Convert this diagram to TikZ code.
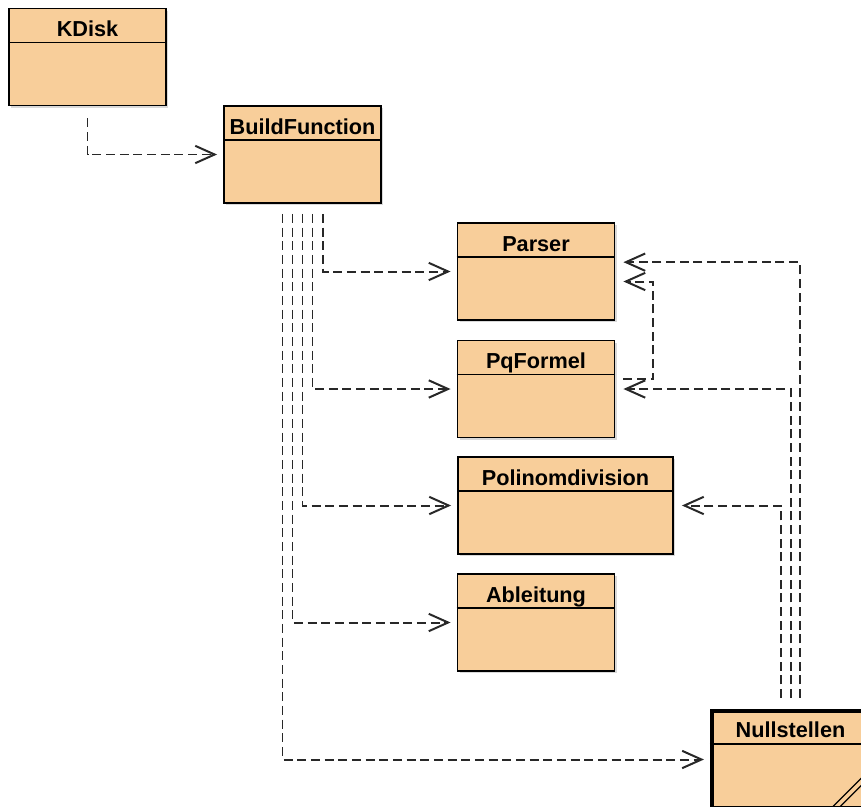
\documentclass[tikz,border=0pt]{standalone}
\usepackage{fontspec}
\setmainfont{Liberation Sans}
\usetikzlibrary{arrows.meta}
\usetikzlibrary{shadows}
\usepackage{xcolor}
\definecolor{classfill}{RGB}{248,206,154}
\definecolor{linegray}{RGB}{40,40,40}

\begin{document}
\begin{tikzpicture}[x=0.03cm,y=-0.03cm,
    classbox/.style={shape=rectangle,
      draw=black,
      line width=1.6pt,
      fill=classfill,
      drop shadow={shadow xshift=2pt,shadow yshift=-2pt,opacity=0.3},
      minimum width=4.71cm,
      minimum height=2.91cm,
      inner sep=0pt},
    classname/.style={font=\fontsize{18.5}{20}\selectfont\bfseries,
      anchor=base,inner sep=0pt},
    divider/.style={line width=1.2pt},
    uses/.style={draw=linegray,line width=1.7pt,
      dash pattern=on 0.27cm off 0.14cm,
      -{Straight Barb[length=0.58cm,width=0.52cm,line width=1.7pt]}}]
    \useasboundingbox (0,0) rectangle (861,807);
    %\draw[help lines,step=1cm] (0,0) grid (861,807); % Only for Development

    % classes
    \node[classbox] (kdisk) at (87.5,57) {};
    \node[classname] (kdisk-t) at ([yshift=-0.87cm]kdisk.north) {KDisk};
    \draw[divider] ([yshift=-1.05cm]kdisk.north west) -- ([yshift=-1.05cm]kdisk.north east);

    \node[classbox] (build) at (302.5,154.5) {};
    \node[classname] (build-t) at ([yshift=-0.87cm]build.north) {BuildFunction};
    \draw[divider] ([yshift=-1.05cm]build.north west) -- ([yshift=-1.05cm]build.north east);

    \node[classbox] (parser) at (536,271.5) {};
    \node[classname] (parser-t) at ([yshift=-0.87cm]parser.north) {Parser};
    \draw[divider] ([yshift=-1.05cm]parser.north west) -- ([yshift=-1.05cm]parser.north east);

    \node[classbox] (pq) at (536,389) {};
    \node[classname] (pq-t) at ([yshift=-0.87cm]pq.north) {PqFormel};
    \draw[divider] ([yshift=-1.05cm]pq.north west) -- ([yshift=-1.05cm]pq.north east);

    \node[classbox,minimum width=6.45cm] (poly) at (565.5,505.5) {};
    \node[classname] (poly-t) at ([yshift=-0.87cm]poly.north) {Polinomdivision};
    \draw[divider] ([yshift=-1.05cm]poly.north west) -- ([yshift=-1.05cm]poly.north east);

    \node[classbox] (abl) at (536,622.5) {};
    \node[classname] (abl-t) at ([yshift=-0.87cm]abl.north) {Ableitung};
    \draw[divider] ([yshift=-1.05cm]abl.north west) -- ([yshift=-1.05cm]abl.north east);

    \node[classbox,line width=3.5pt] (null) at (790.5,759.5) {};
    \node[classname] (null-t) at ([yshift=-0.87cm]null.north) {Nullstellen};
    \draw[divider] ([yshift=-1.05cm]null.north west) -- ([yshift=-1.05cm]null.north east);
    \draw[line width=1pt] ([xshift=-1.25cm]null.south east) -- ([yshift=1.25cm]null.south east)
      ([xshift=-1.03cm]null.south east) -- ([yshift=1.03cm]null.south east);

    % dependencies
    \draw[uses,shorten <=0.36cm,shorten >=0.18cm] (kdisk.south) |- (build);

    \draw[uses,shorten >=0.18cm] ([xshift=0.6cm,yshift=-0.3cm]build.south) |- (parser);
    \draw[uses,shorten >=0.18cm] ([xshift=0.3cm,yshift=-0.3cm]build.south) |- (pq);
    \draw[uses,shorten >=0.18cm] ([yshift=-0.3cm]build.south) |- (poly);
    \draw[uses,shorten >=0.18cm] ([xshift=-0.3cm,yshift=-0.3cm]build.south) |- (abl);
    \draw[uses,shorten >=0.18cm] ([xshift=-0.6cm,yshift=-0.3cm]build.south) |- (null);

    \draw[uses,shorten >=0.24cm] ([xshift=0.27cm,yshift=0.33cm]null.north) |- ([yshift=0.28cm]parser.east);
    \draw[uses,shorten >=0.24cm] ([yshift=0.33cm]null.north) |- (pq);
    \draw[uses,shorten >=0.24cm] ([xshift=-0.3cm,yshift=0.33cm]null.north) |- (poly);

    \draw[uses,shorten <=0.24cm,shorten >=0.24cm] ([yshift=0.3cm]pq.east) -- ++(38,0)
      |- ([yshift=-0.3cm]parser.east);
  \end{tikzpicture}
\end{document}
